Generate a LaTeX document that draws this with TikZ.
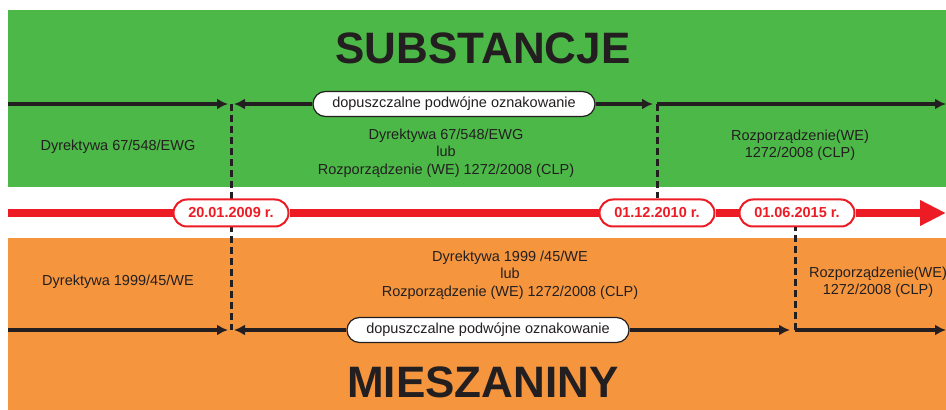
\documentclass[tikz,border=0pt]{standalone}
\usepackage{fontspec}
\setmainfont{Liberation Sans}
\usetikzlibrary{arrows.meta,shapes.misc}

\definecolor{bandgreen}{HTML}{4CB848}
\definecolor{bandorange}{HTML}{F5963F}
\definecolor{timered}{HTML}{ED1C24}
\definecolor{inkblack}{HTML}{231F20}

\tikzset{
    pill/.style={rounded rectangle, draw=inkblack, line width=1.2pt, fill=white,
        minimum width=282pt, minimum height=25pt, inner sep=0pt, text=inkblack,
        font=\fontsize{14.5}{14.5}\selectfont},
    datepill/.style={rounded rectangle, draw=timered, line width=2pt, fill=white,
        minimum width=115pt, minimum height=27pt, inner sep=0pt, text=timered,
        font=\fontsize{14.5}{14.5}\selectfont\bfseries},
    bandtext/.style={align=center, text=inkblack, font=\fontsize{14.5}{17.5}\selectfont},
    bandtitle/.style={text=inkblack, font=\fontsize{44}{44}\selectfont\bfseries},
    rule/.style={draw=inkblack, line width=4.5pt},
    ruletip/.style={rule, -{Latex[length=11pt,width=11pt]}},
    dateline/.style={draw=inkblack, line width=3pt, dash pattern=on 7pt off 4pt},
    redline/.style={draw=timered, line width=7.5pt},
}

\begin{document}
\begin{tikzpicture}[x=1pt, y=1pt]
        \clip (0,0) rectangle (946,410);
        \fill[white] (0,0) rectangle (946,410);
        % bands
        \fill[bandgreen]  (8,223) rectangle (946,400);
        \fill[bandorange] (8,0)   rectangle (946,172);

        \node[bandtitle] (subst) at (483,362) {SUBSTANCJE};
        \node[bandtitle] (miesz) at (483,28)  {MIESZANINY};

        % ends of the lines
        \coordinate (sl) at (8,306);
        \coordinate (sr) at (946,306);
        \coordinate (ml) at (8,80);
        \coordinate (mr) at (946,80);
        \coordinate (rl) at (8,197);
        \coordinate (rr) at (946,197);

        % dates on the time line
        \coordinate (d1top) at (231,306);
        \coordinate (d1bot) at (231,80);
        \coordinate (d2top) at (657,306);
        \coordinate (d3bot) at (795,80);

        \draw[dateline] (d1top) -- (d1bot);

        \node[datepill] (date1) at (231,197) {20.01.2009 r.};
        \node[datepill] (date2) at (657,197) {01.12.2010 r.};
        \node[datepill] (date3) at (797,197) {01.06.2015 r.};

        \draw[dateline] (d2top) -- (date2.north);
        \draw[dateline] (d3bot) -- (date3.south -| d3bot);

        % red time line
        \draw[redline] (rl) -- (date1.west);
        \draw[redline] (date1.east) -- (date2.west);
        \draw[redline] (date2.east) -- (date3.west);
        \draw[redline, -{Triangle[length=26pt,width=24pt]}] (date3.east) -- (rr);

        % substancje
        \node[pill] (dualS) at (454,306) {dopuszczalne podwójne oznakowanie};
        \draw[ruletip] (sl) -- ([xshift=-3pt]d1top);
        \draw[ruletip] (dualS.west) -- ([xshift=3pt]d1top);
        \draw[ruletip] (dualS.east) -- ([xshift=-4pt]d2top);
        \draw[ruletip] (d2top) -- (sr);

        \node[bandtext] (s1) at (118,263) {Dyrektywa 67/548/EWG};
        \node[bandtext] (s2) at (446,257) {Dyrektywa 67/548/EWG\\lub\\Rozporządzenie (WE) 1272/2008 (CLP)};
        \node[bandtext] (s3) at (800,265) {Rozporządzenie(WE)\\1272/2008 (CLP)};

        % mieszaniny
        \node[pill] (dualM) at (488,80) {dopuszczalne podwójne oznakowanie};
        \draw[ruletip] (ml) -- ([xshift=-3pt]d1bot);
        \draw[ruletip] (dualM.west) -- ([xshift=3pt]d1bot);
        \draw[ruletip] (dualM.east) -- ([xshift=-5pt]d3bot);
        \draw[ruletip] (d3bot) -- (mr);

        \node[bandtext] (m1) at (118,128) {Dyrektywa 1999/45/WE};
        \node[bandtext] (m2) at (510,135) {Dyrektywa 1999 /45/WE\\lub\\Rozporządzenie (WE) 1272/2008 (CLP)};
        \node[bandtext] (m3) at (878,128) {Rozporządzenie(WE)\\1272/2008 (CLP)};
\end{tikzpicture}
\end{document}
